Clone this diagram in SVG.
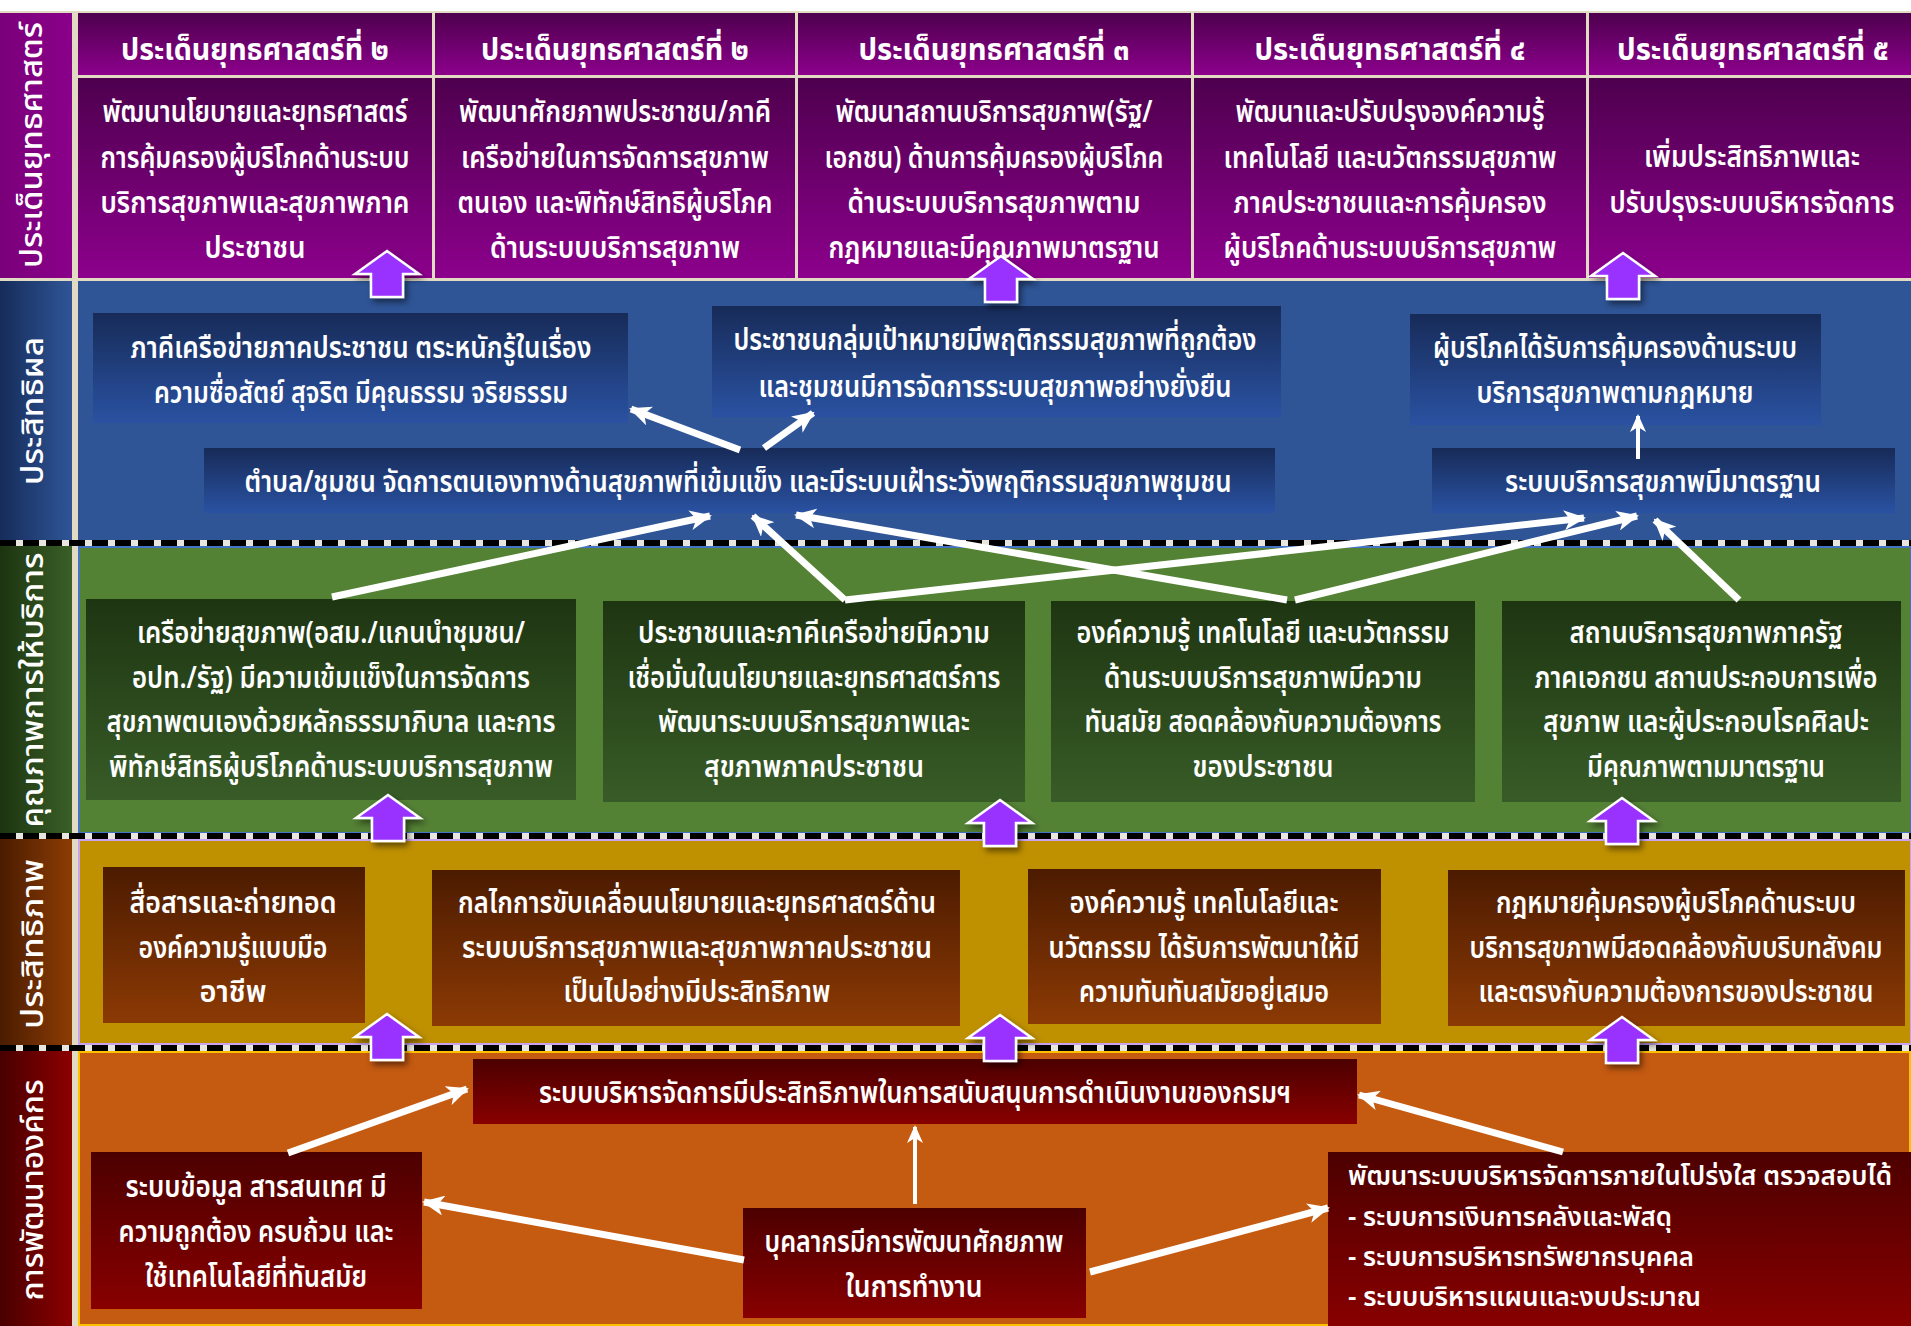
<svg xmlns="http://www.w3.org/2000/svg" width="1911" height="1326" viewBox="0 0 1911 1326">
<defs>
<style>
.t{font-family:"Noto Sans Thai","Noto Sans Thai UI","Leelawadee UI",Tahoma,"DejaVu Sans",sans-serif;fill:#ffffff;font-size:30px;font-weight:600;text-anchor:middle}
.h{font-weight:700}
.tl{text-anchor:start;font-size:27px}
.lab{font-size:31px;font-weight:500}
.c{stroke:#ffffff;stroke-width:7;fill:none;marker-end:url(#ah)}
.cs{stroke:#ffffff;stroke-width:4;fill:none;marker-end:url(#ahs)}
.pa{fill:#9933ff;stroke:#ffffff;stroke-width:2.5;filter:url(#sh)}
.sepw{stroke:#e8e6df;stroke-width:6}
.sepb{stroke:#000000;stroke-width:6;stroke-dasharray:16 7}
</style>
<linearGradient id="gP" x1="0" y1="0" x2="0" y2="1"><stop offset="0" stop-color="#4e004e"/><stop offset="1" stop-color="#8c008c"/></linearGradient>
<linearGradient id="gB" x1="0" y1="0" x2="0" y2="1"><stop offset="0" stop-color="#172b58"/><stop offset="1" stop-color="#2a52a2"/></linearGradient>
<linearGradient id="gG" x1="0" y1="0" x2="0" y2="1"><stop offset="0" stop-color="#1e3512"/><stop offset="1" stop-color="#385c27"/></linearGradient>
<linearGradient id="gY" x1="0" y1="0" x2="0" y2="1"><stop offset="0" stop-color="#4c1b00"/><stop offset="1" stop-color="#8c3a04"/></linearGradient>
<linearGradient id="gR" x1="0" y1="0" x2="0" y2="1"><stop offset="0" stop-color="#4c0000"/><stop offset="1" stop-color="#880000"/></linearGradient>
<linearGradient id="lP" x1="0" y1="0" x2="1" y2="0"><stop offset="0" stop-color="#7a007a"/><stop offset="1" stop-color="#8a008a"/></linearGradient>
<linearGradient id="lB" x1="0" y1="0" x2="1" y2="0"><stop offset="0" stop-color="#162c5a"/><stop offset="1" stop-color="#2f5597"/></linearGradient>
<linearGradient id="lG" x1="0" y1="0" x2="1" y2="0"><stop offset="0" stop-color="#1c3410"/><stop offset="1" stop-color="#3a5f28"/></linearGradient>
<linearGradient id="lY" x1="0" y1="0" x2="1" y2="0"><stop offset="0" stop-color="#4a1c00"/><stop offset="1" stop-color="#8c3c04"/></linearGradient>
<linearGradient id="lR" x1="0" y1="0" x2="1" y2="0"><stop offset="0" stop-color="#480000"/><stop offset="1" stop-color="#8c0000"/></linearGradient>
<filter id="sh" x="-30%" y="-30%" width="170%" height="170%"><feDropShadow dx="3" dy="4" stdDeviation="3" flood-color="#000000" flood-opacity="0.5"/></filter>
<marker id="ah" viewBox="0 0 22 20" markerUnits="userSpaceOnUse" markerWidth="22" markerHeight="20" refX="20" refY="10" orient="auto"><path d="M0,0 L22,10 L0,20 L6,10 Z" fill="#ffffff"/></marker>
<marker id="ahs" viewBox="0 0 18 16" markerUnits="userSpaceOnUse" markerWidth="18" markerHeight="16" refX="16" refY="8" orient="auto"><path d="M0,0 L18,8 L0,16 L5,8 Z" fill="#ffffff"/></marker>
<path id="uarr" d="M0,0 L32,23 L16,23 L16,46 L-16,46 L-16,23 L-32,23 Z"/>
</defs>

<rect x="0" y="0" width="1911" height="1326" fill="#e2dbc3"/>
<rect x="0" y="0" width="1911" height="11" fill="#ffffff"/>

<g id="row-labels">
<rect x="0" y="13" width="72" height="265" fill="url(#lP)"/>
<rect x="0" y="281" width="72" height="259" fill="url(#lB)"/>
<rect x="0" y="546" width="72" height="287" fill="url(#lG)"/>
<rect x="0" y="839" width="72" height="206" fill="url(#lY)"/>
<rect x="0" y="1051" width="72" height="275" fill="url(#lR)"/>
<text class="t lab" transform="translate(42,145) rotate(-90)" textLength="246" lengthAdjust="spacingAndGlyphs">ประเด็นยุทธศาสตร์</text>
<text class="t lab" transform="translate(43,411) rotate(-90)" textLength="148" lengthAdjust="spacingAndGlyphs">ประสิทธิผล</text>
<text class="t lab" transform="translate(43,690) rotate(-90)" textLength="275" lengthAdjust="spacingAndGlyphs">คุณภาพการให้บริการ</text>
<text class="t lab" transform="translate(43,944) rotate(-90)" textLength="170" lengthAdjust="spacingAndGlyphs">ประสิทธิภาพ</text>
<text class="t lab" transform="translate(43,1190) rotate(-90)" textLength="221" lengthAdjust="spacingAndGlyphs">การพัฒนาองค์กร</text>
</g>

<g id="row-backgrounds">
<rect x="78" y="281" width="1833" height="259" fill="#2f5597"/>
<rect x="79" y="547" width="1832" height="286" fill="#548235" stroke="#4472c4" stroke-width="2"/>
<rect x="79" y="840" width="1832" height="204" fill="#bf9000" stroke="#c9a3f2" stroke-width="2"/>
<rect x="79" y="1052" width="1831" height="273" fill="#c55a11" stroke="#ffc000" stroke-width="2"/>
</g>

<g id="separators">
<line class="sepw" x1="0" y1="543" x2="1911" y2="543"/><line class="sepb" x1="0" y1="543" x2="1911" y2="543"/>
<line class="sepw" x1="0" y1="836" x2="1911" y2="836"/><line class="sepb" x1="0" y1="836" x2="1911" y2="836"/>
<line class="sepw" x1="0" y1="1048" x2="1911" y2="1048"/><line class="sepb" x1="0" y1="1048" x2="1911" y2="1048"/>
</g>

<g id="strategy-1">
<rect x="78" y="13" width="354" height="62" fill="url(#gP)"/>
<rect x="78" y="78" width="354" height="200" fill="url(#gP)"/>
<text class="t h" x="255" y="60" textLength="268" lengthAdjust="spacingAndGlyphs">ประเด็นยุทธศาสตร์ที่ ๒</text>
<text class="t" x="255" y="122" textLength="305" lengthAdjust="spacingAndGlyphs">พัฒนานโยบายและยุทธศาสตร์</text>
<text class="t" x="255" y="168" textLength="309" lengthAdjust="spacingAndGlyphs">การคุ้มครองผู้บริโภคด้านระบบ</text>
<text class="t" x="255" y="213" textLength="309" lengthAdjust="spacingAndGlyphs">บริการสุขภาพและสุขภาพภาค</text>
<text class="t" x="255" y="258" textLength="101" lengthAdjust="spacingAndGlyphs">ประชาชน</text>
</g>
<g id="strategy-2">
<rect x="435" y="13" width="360" height="62" fill="url(#gP)"/>
<rect x="435" y="78" width="360" height="200" fill="url(#gP)"/>
<text class="t h" x="615" y="60" textLength="268" lengthAdjust="spacingAndGlyphs">ประเด็นยุทธศาสตร์ที่ ๒</text>
<text class="t" x="615" y="122" textLength="312" lengthAdjust="spacingAndGlyphs">พัฒนาศักยภาพประชาชน/ภาคี</text>
<text class="t" x="615" y="168" textLength="308" lengthAdjust="spacingAndGlyphs">เครือข่ายในการจัดการสุขภาพ</text>
<text class="t" x="615" y="213" textLength="315" lengthAdjust="spacingAndGlyphs">ตนเอง และพิทักษ์สิทธิผู้บริโภค</text>
<text class="t" x="615" y="258" textLength="250" lengthAdjust="spacingAndGlyphs">ด้านระบบบริการสุขภาพ</text>
</g>
<g id="strategy-3">
<rect x="798" y="13" width="393" height="62" fill="url(#gP)"/>
<rect x="798" y="78" width="393" height="200" fill="url(#gP)"/>
<text class="t h" x="994" y="60" textLength="271" lengthAdjust="spacingAndGlyphs">ประเด็นยุทธศาสตร์ที่ ๓</text>
<text class="t" x="994" y="122" textLength="317" lengthAdjust="spacingAndGlyphs">พัฒนาสถานบริการสุขภาพ(รัฐ/</text>
<text class="t" x="994" y="168" textLength="339" lengthAdjust="spacingAndGlyphs">เอกชน) ด้านการคุ้มครองผู้บริโภค</text>
<text class="t" x="994" y="213" textLength="293" lengthAdjust="spacingAndGlyphs">ด้านระบบบริการสุขภาพตาม</text>
<text class="t" x="994" y="258" textLength="331" lengthAdjust="spacingAndGlyphs">กฎหมายและมีคุณภาพมาตรฐาน</text>
</g>
<g id="strategy-4">
<rect x="1194" y="13" width="392" height="62" fill="url(#gP)"/>
<rect x="1194" y="78" width="392" height="200" fill="url(#gP)"/>
<text class="t h" x="1390" y="60" textLength="271" lengthAdjust="spacingAndGlyphs">ประเด็นยุทธศาสตร์ที่ ๔</text>
<text class="t" x="1390" y="122" textLength="309" lengthAdjust="spacingAndGlyphs">พัฒนาและปรับปรุงองค์ความรู้</text>
<text class="t" x="1390" y="168" textLength="333" lengthAdjust="spacingAndGlyphs">เทคโนโลยี และนวัตกรรมสุขภาพ</text>
<text class="t" x="1390" y="213" textLength="313" lengthAdjust="spacingAndGlyphs">ภาคประชาชนและการคุ้มครอง</text>
<text class="t" x="1390" y="258" textLength="333" lengthAdjust="spacingAndGlyphs">ผู้บริโภคด้านระบบบริการสุขภาพ</text>
</g>
<g id="strategy-5">
<rect x="1589" y="13" width="322" height="62" fill="url(#gP)"/>
<rect x="1589" y="78" width="322" height="200" fill="url(#gP)"/>
<text class="t h" x="1753" y="60" textLength="272" lengthAdjust="spacingAndGlyphs">ประเด็นยุทธศาสตร์ที่ ๕</text>
<text class="t" x="1752" y="167" textLength="216" lengthAdjust="spacingAndGlyphs">เพิ่มประสิทธิภาพและ</text>
<text class="t" x="1752" y="213" textLength="285" lengthAdjust="spacingAndGlyphs">ปรับปรุงระบบบริหารจัดการ</text>
</g>

<g id="outcome-a">
<rect x="93" y="313" width="535" height="110" fill="url(#gB)"/>
<text class="t" x="361" y="358" textLength="461" lengthAdjust="spacingAndGlyphs">ภาคีเครือข่ายภาคประชาชน ตระหนักรู้ในเรื่อง</text>
<text class="t" x="361" y="403" textLength="414" lengthAdjust="spacingAndGlyphs">ความซื่อสัตย์ สุจริต มีคุณธรรม จริยธรรม</text>
</g>
<g id="outcome-b">
<rect x="712" y="306" width="569" height="111" fill="url(#gB)"/>
<text class="t" x="995" y="350" textLength="523" lengthAdjust="spacingAndGlyphs">ประชาชนกลุ่มเป้าหมายมีพฤติกรรมสุขภาพที่ถูกต้อง</text>
<text class="t" x="995" y="397" textLength="473" lengthAdjust="spacingAndGlyphs">และชุมชนมีการจัดการระบบสุขภาพอย่างยั่งยืน</text>
</g>
<g id="outcome-c">
<rect x="204" y="448" width="1071" height="65" fill="url(#gB)"/>
<text class="t" x="738" y="492" textLength="987" lengthAdjust="spacingAndGlyphs">ตำบล/ชุมชน จัดการตนเองทางด้านสุขภาพที่เข้มแข็ง และมีระบบเฝ้าระวังพฤติกรรมสุขภาพชุมชน</text>
</g>
<g id="outcome-d">
<rect x="1410" y="314" width="411" height="111" fill="url(#gB)"/>
<text class="t" x="1615" y="358" textLength="364" lengthAdjust="spacingAndGlyphs">ผู้บริโภคได้รับการคุ้มครองด้านระบบ</text>
<text class="t" x="1615" y="403" textLength="277" lengthAdjust="spacingAndGlyphs">บริการสุขภาพตามกฎหมาย</text>
</g>
<g id="outcome-e">
<rect x="1432" y="448" width="463" height="65" fill="url(#gB)"/>
<text class="t" x="1663" y="492" textLength="316" lengthAdjust="spacingAndGlyphs">ระบบบริการสุขภาพมีมาตรฐาน</text>
</g>

<g id="quality-1">
<rect x="86" y="599" width="490" height="201" fill="url(#gG)"/>
<text class="t" x="331" y="643" textLength="388" lengthAdjust="spacingAndGlyphs">เครือข่ายสุขภาพ(อสม./แกนนำชุมชน/</text>
<text class="t" x="331" y="688" textLength="398" lengthAdjust="spacingAndGlyphs">อปท./รัฐ) มีความเข้มแข็งในการจัดการ</text>
<text class="t" x="331" y="732" textLength="449" lengthAdjust="spacingAndGlyphs">สุขภาพตนเองด้วยหลักธรรมาภิบาล และการ</text>
<text class="t" x="331" y="777" textLength="444" lengthAdjust="spacingAndGlyphs">พิทักษ์สิทธิผู้บริโภคด้านระบบบริการสุขภาพ</text>
</g>
<g id="quality-2">
<rect x="603" y="601" width="422" height="201" fill="url(#gG)"/>
<text class="t" x="814" y="643" textLength="352" lengthAdjust="spacingAndGlyphs">ประชาชนและภาคีเครือข่ายมีความ</text>
<text class="t" x="814" y="688" textLength="373" lengthAdjust="spacingAndGlyphs">เชื่อมั่นในนโยบายและยุทธศาสตร์การ</text>
<text class="t" x="814" y="732" textLength="312" lengthAdjust="spacingAndGlyphs">พัฒนาระบบบริการสุขภาพและ</text>
<text class="t" x="814" y="777" textLength="220" lengthAdjust="spacingAndGlyphs">สุขภาพภาคประชาชน</text>
</g>
<g id="quality-3">
<rect x="1051" y="601" width="424" height="201" fill="url(#gG)"/>
<text class="t" x="1263" y="643" textLength="373" lengthAdjust="spacingAndGlyphs">องค์ความรู้ เทคโนโลยี และนวัตกรรม</text>
<text class="t" x="1263" y="688" textLength="318" lengthAdjust="spacingAndGlyphs">ด้านระบบบริการสุขภาพมีความ</text>
<text class="t" x="1263" y="732" textLength="357" lengthAdjust="spacingAndGlyphs">ทันสมัย สอดคล้องกับความต้องการ</text>
<text class="t" x="1263" y="777" textLength="141" lengthAdjust="spacingAndGlyphs">ของประชาชน</text>
</g>
<g id="quality-4">
<rect x="1502" y="601" width="399" height="201" fill="url(#gG)"/>
<text class="t" x="1706" y="643" textLength="273" lengthAdjust="spacingAndGlyphs">สถานบริการสุขภาพภาครัฐ</text>
<text class="t" x="1706" y="688" textLength="343" lengthAdjust="spacingAndGlyphs">ภาคเอกชน สถานประกอบการเพื่อ</text>
<text class="t" x="1706" y="732" textLength="326" lengthAdjust="spacingAndGlyphs">สุขภาพ และผู้ประกอบโรคศิลปะ</text>
<text class="t" x="1706" y="777" textLength="238" lengthAdjust="spacingAndGlyphs">มีคุณภาพตามมาตรฐาน</text>
</g>

<g id="efficiency-1">
<rect x="103" y="867" width="262" height="156" fill="url(#gY)"/>
<text class="t" x="233" y="913" textLength="207" lengthAdjust="spacingAndGlyphs">สื่อสารและถ่ายทอด</text>
<text class="t" x="233" y="958" textLength="189" lengthAdjust="spacingAndGlyphs">องค์ความรู้แบบมือ</text>
<text class="t" x="233" y="1002" textLength="67" lengthAdjust="spacingAndGlyphs">อาชีพ</text>
</g>
<g id="efficiency-2">
<rect x="432" y="870" width="528" height="156" fill="url(#gY)"/>
<text class="t" x="697" y="913" textLength="478" lengthAdjust="spacingAndGlyphs">กลไกการขับเคลื่อนนโยบายและยุทธศาสตร์ด้าน</text>
<text class="t" x="697" y="958" textLength="470" lengthAdjust="spacingAndGlyphs">ระบบบริการสุขภาพและสุขภาพภาคประชาชน</text>
<text class="t" x="697" y="1002" textLength="267" lengthAdjust="spacingAndGlyphs">เป็นไปอย่างมีประสิทธิภาพ</text>
</g>
<g id="efficiency-3">
<rect x="1028" y="869" width="353" height="155" fill="url(#gY)"/>
<text class="t" x="1204" y="913" textLength="269" lengthAdjust="spacingAndGlyphs">องค์ความรู้ เทคโนโลยีและ</text>
<text class="t" x="1204" y="958" textLength="311" lengthAdjust="spacingAndGlyphs">นวัตกรรม ได้รับการพัฒนาให้มี</text>
<text class="t" x="1204" y="1002" textLength="250" lengthAdjust="spacingAndGlyphs">ความทันทันสมัยอยู่เสมอ</text>
</g>
<g id="efficiency-4">
<rect x="1448" y="870" width="457" height="156" fill="url(#gY)"/>
<text class="t" x="1676" y="913" textLength="360" lengthAdjust="spacingAndGlyphs">กฎหมายคุ้มครองผู้บริโภคด้านระบบ</text>
<text class="t" x="1676" y="958" textLength="413" lengthAdjust="spacingAndGlyphs">บริการสุขภาพมีสอดคล้องกับบริบทสังคม</text>
<text class="t" x="1676" y="1002" textLength="395" lengthAdjust="spacingAndGlyphs">และตรงกับความต้องการของประชาชน</text>
</g>

<g id="org-1">
<rect x="473" y="1059" width="884" height="65" fill="url(#gR)"/>
<text class="t" x="915" y="1103" textLength="752" lengthAdjust="spacingAndGlyphs">ระบบบริหารจัดการมีประสิทธิภาพในการสนับสนุนการดำเนินงานของกรมฯ</text>
</g>
<g id="org-2">
<rect x="91" y="1152" width="331" height="157" fill="url(#gR)"/>
<text class="t" x="256" y="1197" textLength="261" lengthAdjust="spacingAndGlyphs">ระบบข้อมูล สารสนเทศ มี</text>
<text class="t" x="256" y="1242" textLength="275" lengthAdjust="spacingAndGlyphs">ความถูกต้อง ครบถ้วน และ</text>
<text class="t" x="256" y="1287" textLength="222" lengthAdjust="spacingAndGlyphs">ใช้เทคโนโลยีที่ทันสมัย</text>
</g>
<g id="org-3">
<rect x="743" y="1208" width="343" height="110" fill="url(#gR)"/>
<text class="t" x="914" y="1252" textLength="299" lengthAdjust="spacingAndGlyphs">บุคลากรมีการพัฒนาศักยภาพ</text>
<text class="t" x="914" y="1297" textLength="137" lengthAdjust="spacingAndGlyphs">ในการทำงาน</text>
</g>
<g id="org-4">
<rect x="1328" y="1152" width="583" height="174" fill="url(#gR)"/>
<text class="t tl" x="1348" y="1185" textLength="544" lengthAdjust="spacingAndGlyphs">พัฒนาระบบบริหารจัดการภายในโปร่งใส ตรวจสอบได้</text>
<text class="t tl" x="1348" y="1226" textLength="324" lengthAdjust="spacingAndGlyphs">- ระบบการเงินการคลังและพัสดุ</text>
<text class="t tl" x="1348" y="1266" textLength="346" lengthAdjust="spacingAndGlyphs">- ระบบการบริหารทรัพยากรบุคคล</text>
<text class="t tl" x="1348" y="1306" textLength="353" lengthAdjust="spacingAndGlyphs">- ระบบบริหารแผนและงบประมาณ</text>
</g>

<g id="connectors">
<line class="c" x1="740" y1="450" x2="631" y2="409"/>
<line class="c" x1="764" y1="448" x2="813" y2="413"/>
<line class="cs" x1="1638" y1="459" x2="1638" y2="416"/>
<line class="c" x1="332" y1="597" x2="710" y2="516"/>
<line class="c" x1="845" y1="600" x2="753" y2="516"/>
<line class="c" x1="845" y1="600" x2="1584" y2="518"/>
<line class="c" x1="1287" y1="600" x2="796" y2="515"/>
<line class="c" x1="1295" y1="600" x2="1637" y2="516"/>
<line class="c" x1="1739" y1="600" x2="1655" y2="520"/>
<line class="c" x1="288" y1="1153" x2="467" y2="1089"/>
<line class="cs" x1="915" y1="1204" x2="915" y2="1127"/>
<line class="c" x1="744" y1="1260" x2="424" y2="1202"/>
<line class="c" x1="1090" y1="1272" x2="1328" y2="1208"/>
<line class="c" x1="1563" y1="1152" x2="1359" y2="1095"/>
<use href="#uarr" class="pa" x="387" y="251"/>
<use href="#uarr" class="pa" x="1001" y="256"/>
<use href="#uarr" class="pa" x="1623" y="253"/>
<use href="#uarr" class="pa" x="388" y="795"/>
<use href="#uarr" class="pa" x="1000" y="800"/>
<use href="#uarr" class="pa" x="1622" y="798"/>
<use href="#uarr" class="pa" x="387" y="1014"/>
<use href="#uarr" class="pa" x="1000" y="1015"/>
<use href="#uarr" class="pa" x="1622" y="1017"/>
</g>
</svg>
